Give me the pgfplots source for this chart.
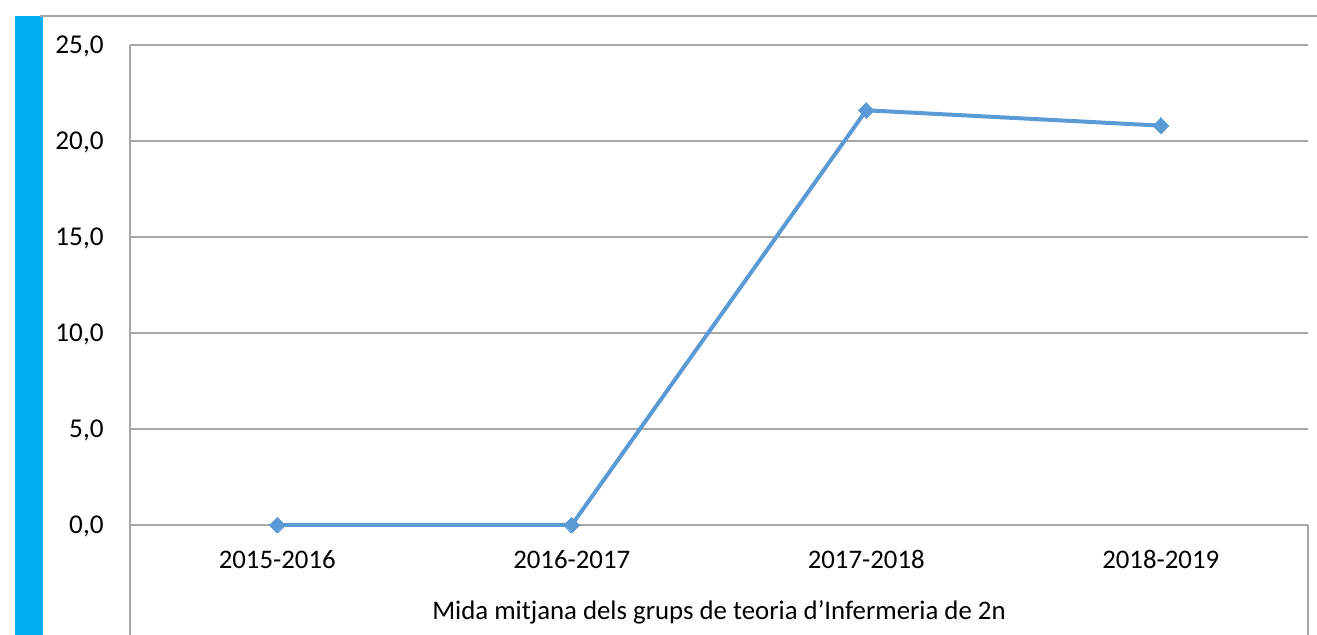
\documentclass[border=0pt]{standalone}
\usepackage{pgfplots}
\pgfplotsset{compat=1.18}
\usepackage{fontspec}
\setmainfont{Carlito}
\definecolor{cyanbar}{HTML}{00B0F0}
\definecolor{lineblue}{HTML}{5B9BD5}
\definecolor{gridgray}{HTML}{A6A6A6}
\begin{document}
\begin{tikzpicture}
\fontsize{13.4}{16}\selectfont
\useasboundingbox (0,0) rectangle (658.5pt,317.5pt);
\fill[cyanbar] (7.5pt,0) rectangle (21.5pt,309.5pt);
\draw[gridgray, line width=0.8pt] (20pt,309.5pt) -- (658.5pt,309.5pt);
\draw[gridgray, line width=0.8pt] (65pt,295pt) -- (65pt,0);
\draw[gridgray, line width=0.8pt] (654pt,55pt) -- (654pt,0);
\begin{axis}[
  at={(65pt,55pt)}, anchor=south west,
  scale only axis, width=589pt, height=240pt,
  xmin=-0.5, xmax=3.5, ymin=0, ymax=25,
  axis line style={draw=none},
  clip=false,
  xtick={0,1,2,3},
  xticklabels={2015-2016,2016-2017,2017-2018,2018-2019},
  ytick={0,5,10,15,20,25},
  major tick length=0pt,
  tick style={draw=none},
  ymajorgrids,
  grid style={gridgray, line width=0.8pt},
  /pgf/number format/.cd, fixed, fixed zerofill, precision=1, use comma, assume math mode=true,
  /pgfplots/.cd,
  yticklabel style={anchor=base east, inner sep=0pt, xshift=-13pt, yshift=-4.5pt, font=\fontsize{13.6}{16}\selectfont},
  xticklabel style={anchor=base, inner sep=0pt, yshift=-22pt, font=\fontsize{13.4}{16}\selectfont},
  xlabel={Mida mitjana dels grups de teoria d’Infermeria de 2n},
  xlabel style={at={(rel axis cs:0.5,0)}, anchor=base, inner sep=0pt, yshift=-47.5pt, font=\fontsize{13.4}{16}\selectfont},
]
\addplot[lineblue, line width=2pt, mark=square*, mark size=2.8pt, mark options={rotate=45, solid, fill=lineblue, draw=lineblue, line width=0pt}]
  coordinates {(0,0) (1,0) (2,21.6) (3,20.8)};
\end{axis}
\end{tikzpicture}
\end{document}
